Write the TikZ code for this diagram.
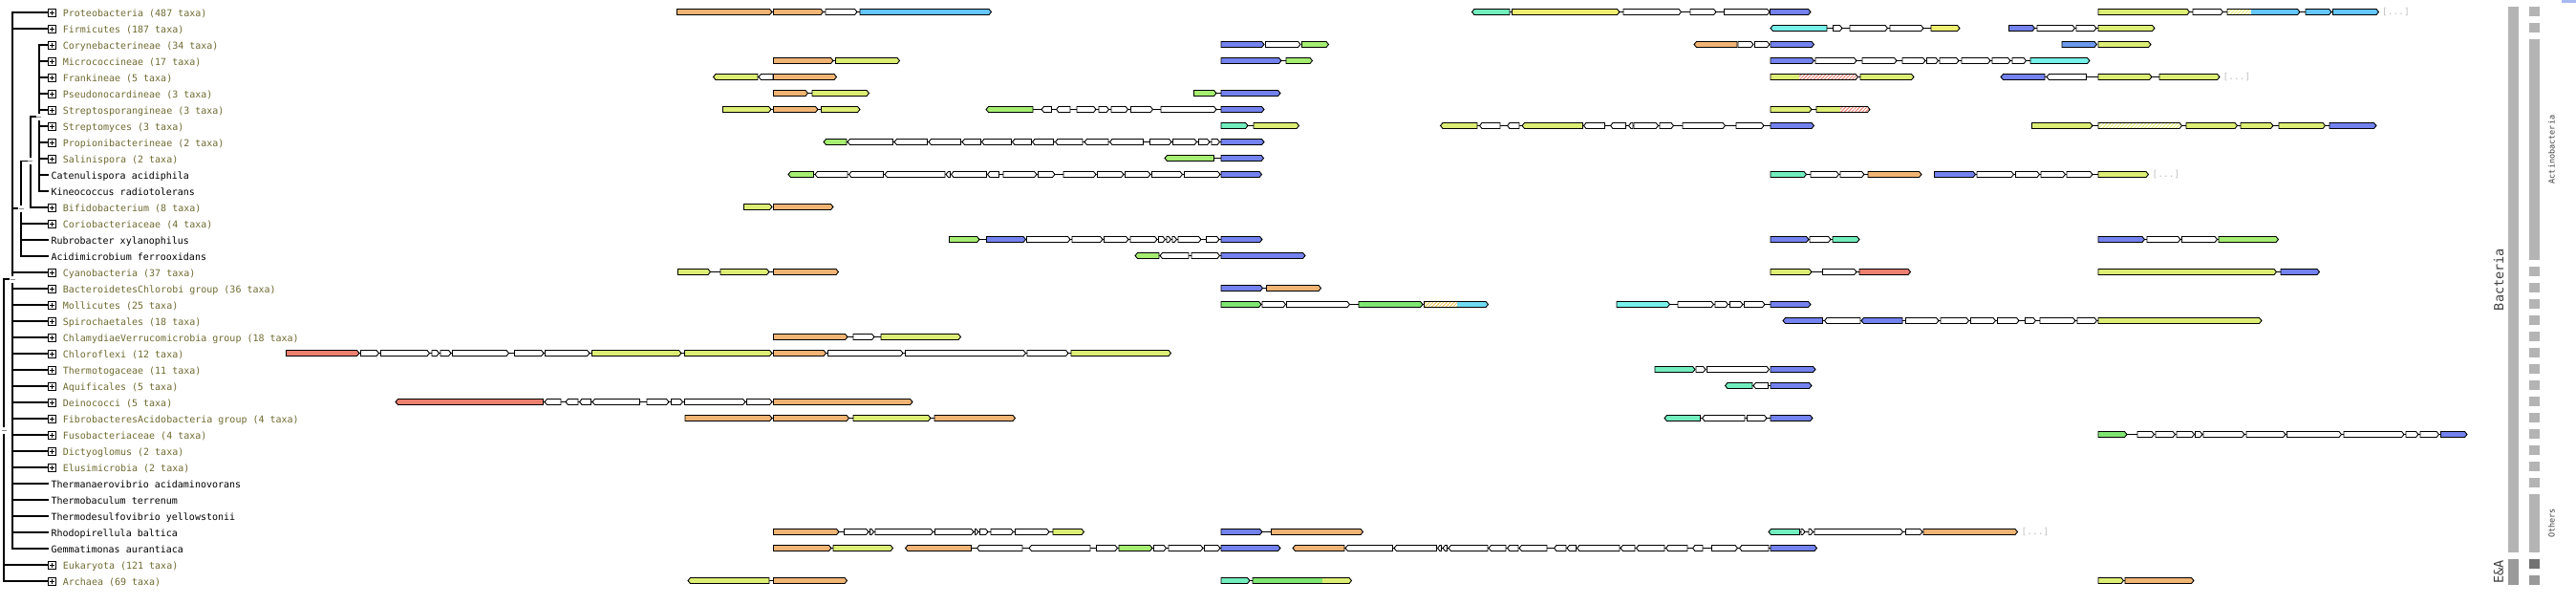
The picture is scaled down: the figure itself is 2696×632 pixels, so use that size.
\documentclass[tikz,border=0pt]{standalone}
\usepackage{fontspec}
\usetikzlibrary{patterns.meta}
\newfontfamily\monofont{DejaVu Sans Mono}

\definecolor{or}{HTML}{F0B474}
\definecolor{yg}{HTML}{DDEE75}
\definecolor{sk}{HTML}{66C6FF}
\definecolor{pe}{HTML}{7382EE}
\definecolor{lg}{HTML}{A6EE72}
\definecolor{gr}{HTML}{80E672}
\definecolor{mi}{HTML}{72EEBE}
\definecolor{cy}{HTML}{76F2EA}
\definecolor{ye}{HTML}{EEEE72}
\definecolor{rd}{HTML}{EE8070}
\definecolor{mb}{HTML}{6C98EC}
\definecolor{sc}{HTML}{70DAF2}
\definecolor{ho}{HTML}{F2C45A}
\colorlet{wh}{white}
\definecolor{taxcol}{RGB}{110,106,48}
\definecolor{barg}{HTML}{B4B4B4}
\definecolor{bareg}{HTML}{9A9A9A}
\definecolor{bardk}{HTML}{727272}
\definecolor{cornr}{HTML}{A8B8F0}

% one gene: row y, start, end, direction (1 right, -1 left), fill
\newcommand{\gn}[5]{%
  \ifnum#4>0
    \filldraw[gene,fill=#5] (#2,#1-3.5) -- (#3-2.5,#1-3.5) -- (#3,#1-0.5) -- (#3-2.5,#1+2.5) -- (#2,#1+2.5) -- cycle;
  \else
    \filldraw[gene,fill=#5] (#3,#1-3.5) -- (#2+2.5,#1-3.5) -- (#2,#1-0.5) -- (#2+2.5,#1+2.5) -- (#3,#1+2.5) -- cycle;
  \fi}
% two-part gene pointing right: row y, start, split, end, left style, right style
\newcommand{\gsplit}[6]{%
  \fill[#6] (#2,#1-3.5) -- (#4-2.5,#1-3.5) -- (#4,#1-0.5) -- (#4-2.5,#1+2.5) -- (#2,#1+2.5) -- cycle;
  \fill[#5] (#2,#1-3.5) rectangle (#3,#1+2.5);
  \draw[gene] (#2,#1-3.5) -- (#4-2.5,#1-3.5) -- (#4,#1-0.5) -- (#4-2.5,#1+2.5) -- (#2,#1+2.5) -- cycle;}
% intergenic line
\newcommand{\lk}[3]{\draw[link] (#2,#1-0.5) -- (#3,#1-0.5);}

\begin{document}
\begin{tikzpicture}[x=1pt,y=-1pt,
  gene/.style={draw=black,line width=0.9pt,line join=miter},
  link/.style={line width=0.9pt},
  tree/.style={line width=1.8pt,line cap=rect},
  plusbox/.style={draw=black,line width=0.9pt},
  taxon/.style={anchor=base west,inner sep=0pt,text=taxcol,font=\monofont\fontsize{10}{12}\selectfont},
  species/.style={taxon,text=black},
  more/.style={anchor=west,inner sep=0pt,text=black!25,font=\monofont\fontsize{9.5}{11}\selectfont},
  grouplab/.style={inner sep=0pt,text=black!75,rotate=90},
  hatch/.style={preaction={fill=white},pattern={Lines[angle=45,distance=2.6pt,line width=1pt]}},
  hatchR/.style={hatch,pattern color=rd},
  hatchY/.style={hatch,pattern color=yg!70!ye},
  hatchO/.style={hatch,pattern color=ho}]
\useasboundingbox (0,0) rectangle (2696,632);

% taxonomy tree
\draw[tree] (4.3,292) -- (4.3,608);
\draw[tree] (4.3,292) -- (13.3,292);
\draw[tree] (13.3,13) -- (13.3,574);
\draw[tree] (13.3,218) -- (22.3,218);
\draw[tree] (22.3,168.5) -- (22.3,268);
\draw[tree] (22.3,168.5) -- (31.7,168.5);
\draw[tree] (31.7,122) -- (31.7,217);
\draw[tree] (31.7,122) -- (40.7,122);
\draw[tree] (40.7,47) -- (40.7,200);
\foreach \i in {0,1,16,17,18,19,20,21,22,23,24,25,26,27,28,29,30,31,32,33}
  \draw[tree] (13.3,13+17*\i) -- (50,13+17*\i);
\foreach \i in {13,14,15} \draw[tree] (22.3,13+17*\i) -- (50,13+17*\i);
\draw[tree] (31.7,217) -- (50,217);
\foreach \i in {2,...,11} \draw[tree] (40.7,13+17*\i) -- (50,13+17*\i);
\foreach \i in {34,35} \draw[tree] (4.3,13+17*\i) -- (50,13+17*\i);
\foreach \mx/\my in {4.3/450,13.3/292,22.3/218,31.7/168.5,40.7/122} {
  \fill[white] (\mx-3,\my-3.5) rectangle (\mx+3,\my+3.5);
  \draw[black!45,line width=1pt] (\mx-2.5,\my) -- (\mx+2.5,\my);
}
\foreach \i in {0,1,2,3,4,5,6,7,8,9,12,13,16,17,18,19,20,21,22,23,24,25,26,27,28,34,35} {
  \fill[white] (50.3,13+17*\i-3.7) rectangle (58.3,13+17*\i+4.3);
  \draw[plusbox] (50.3,13+17*\i-3.7) rectangle (58.3,13+17*\i+4.3);
  \draw[line width=1pt] (51.8,13+17*\i+0.3) -- (56.8,13+17*\i+0.3);
  \draw[line width=1pt] (54.3,13+17*\i-2.2) -- (54.3,13+17*\i+2.8);
}

% taxon labels
\foreach \i/\lab in {0/Proteobacteria (487 taxa),1/Firmicutes (187 taxa),
  2/Corynebacterineae (34 taxa),3/Micrococcineae (17 taxa),4/Frankineae (5 taxa),
  5/Pseudonocardineae (3 taxa),6/Streptosporangineae (3 taxa),7/Streptomyces (3 taxa),
  8/Propionibacterineae (2 taxa),9/Salinispora (2 taxa),12/Bifidobacterium (8 taxa),
  13/Coriobacteriaceae (4 taxa),16/Cyanobacteria (37 taxa),
  17/BacteroidetesChlorobi group (36 taxa),18/Mollicutes (25 taxa),
  19/Spirochaetales (18 taxa),20/ChlamydiaeVerrucomicrobia group (18 taxa),
  21/Chloroflexi (12 taxa),22/Thermotogaceae (11 taxa),23/Aquificales (5 taxa),
  24/Deinococci (5 taxa),25/FibrobacteresAcidobacteria group (4 taxa),
  26/Fusobacteriaceae (4 taxa),27/Dictyoglomus (2 taxa),28/Elusimicrobia (2 taxa),
  34/Eukaryota (121 taxa),35/Archaea (69 taxa)}
  \node[taxon] (tx\i) at (65.7,13+17*\i+4.3) {\lab};
\foreach \i/\lab in {10/Catenulispora acidiphila,11/Kineococcus radiotolerans,
  14/Rubrobacter xylanophilus,15/Acidimicrobium ferrooxidans,
  29/Thermanaerovibrio acidaminovorans,30/Thermobaculum terrenum,
  31/Thermodesulfovibrio yellowstonii,32/Rhodopirellula baltica,
  33/Gemmatimonas aurantiaca}
  \node[species] (tx\i) at (53.3,13+17*\i+4.3) {\lab};

% gene rows
% Proteobacteria
\foreach \a/\b in {708.5/1037.5,1540.5/1895,2196/2489.5} {\lk{13}{\a}{\b}}
\foreach \a/\b/\d/\c in {708.5/808/1/or,809.5/861.5/1/or,864/897/1/wh,900/1037.5/1/sk,
  1540.5/1580/-1/mi,1582.5/1695/1/ye,1699/1759.5/1/wh,1769/1796/1/wh,1804.5/1852/1/wh,
  1852.5/1895/1/pe,2196/2291.5/1/yg,2295/2326.5/1/wh,2413/2440/1/sk,2441.5/2489.5/1/sk}
  {\gn{13}{\a}{\b}{\d}{\c}}
\gsplit{13}{2331}{2355.5}{2407}{hatchY}{fill=sk}
\node[more] (more0) at (2493,12.5) {[...]};
% Firmicutes
\foreach \a/\b in {1853/2051,2102.5/2255} {\lk{30}{\a}{\b}}
\foreach \a/\b/\d/\c in {1853/1912/-1/cy,1918.5/1928/1/wh,1936/1975.5/1/wh,1978/2013/1/wh,
  2021/2051/1/ye,2102.5/2129.5/1/pe,2132/2171.5/1/wh,2173/2194/1/wh,2196/2255/1/yg}
  {\gn{30}{\a}{\b}{\d}{\c}}
% Corynebacterineae
\foreach \a/\b/\d/\c in {1278/1323/1/pe,1324.5/1361/1/wh,1362.5/1390.5/1/lg,
  1773/1818/-1/or,1819/1835/1/wh,1836.5/1852/1/wh,1853/1898.5/1/pe,
  2158/2194.5/1/mb,2196/2251/1/yg}
  {\gn{47}{\a}{\b}{\d}{\c}}
% Micrococcineae
\foreach \a/\b in {809.5/941.5,1278/1373.5,1853/2187} {\lk{64}{\a}{\b}}
\foreach \a/\b/\d/\c in {809.5/872/1/or,874.5/941.5/1/yg,1278/1341/1/pe,1346/1373.5/1/lg,
  1853/1898.5/1/pe,1900/1943/1/wh,1949/1985/1/wh,1991/2015/1/wh,2016.5/2028.5/1/wh,
  2030/2050/1/wh,2053/2083/1/wh,2085/2104/1/wh,2106/2120.5/1/wh,2125/2187/1/cy}
  {\gn{64}{\a}{\b}{\d}{\c}}
% Frankineae
\foreach \a/\b in {746.5/875.5,1853/2003,2094/2323} {\lk{81}{\a}{\b}}
\foreach \a/\b/\d/\c in {746.5/793/-1/yg,794/809/-1/wh,809.5/875.5/1/or,1947/2003/1/yg,
  2094/2140/-1/pe,2142/2183.5/-1/wh,2196/2252/1/yg,2260/2323/1/yg}
  {\gn{81}{\a}{\b}{\d}{\c}}
\gsplit{81}{1853}{1882.5}{1944.5}{fill=yg}{hatchR}
\node[more] (more4) at (2326.5,80.5) {[...]};
% Pseudonocardineae
\foreach \a/\b in {809.5/909.5,1249.5/1340} {\lk{98}{\a}{\b}}
\foreach \a/\b/\d/\c in {809.5/845.5/1/or,850/909.5/1/yg,1249.5/1273/1/lg,1278/1340/1/pe}
  {\gn{98}{\a}{\b}{\d}{\c}}
% Streptosporangineae
\foreach \a/\b in {756.5/900,1032/1323,1853/1957} {\lk{115}{\a}{\b}}
\foreach \a/\b/\d/\c in {756.5/807/1/yg,809.5/856/1/or,859.5/900/1/yg,1032/1081/-1/lg,
  1090/1100.5/-1/wh,1105.5/1120/-1/wh,1127/1147/1/wh,1150/1160.5/1/wh,1163/1180.5/1/wh,
  1183.5/1206.5/1/wh,1215/1273/1/wh,1278/1323/1/pe,1853/1896/1/yg}
  {\gn{115}{\a}{\b}{\d}{\c}}
\gsplit{115}{1901}{1925.5}{1957}{fill=yg}{hatchR}
% Streptomyces
\foreach \a/\b in {1278/1359.5,1507.5/1898.5,2126.5/2487} {\lk{132}{\a}{\b}}
\foreach \a/\b/\d/\c in {1278/1306/1/mi,1312/1359.5/1/yg,1507.5/1546/-1/yg,1548.5/1570/-1/wh,
  1577.5/1590/-1/wh,1593/1656.5/-1/yg,1657.5/1679.5/-1/wh,1685.5/1701.5/-1/wh,
  1704.5/1709/-1/wh,1710/1735.5/1/wh,1737/1751.5/1/wh,1761/1805.5/1/wh,1817/1846/1/wh,
  1853/1898.5/1/pe,2126.5/2190/1/yg,2288/2341.5/1/yg,2345/2379/1/yg,2385/2433.5/1/yg,
  2438/2487/1/pe}
  {\gn{132}{\a}{\b}{\d}{\c}}
\gsplit{132}{2196}{2196}{2283.5}{fill=yg}{hatchY}
% Propionibacterineae
\lk{149}{862}{1323}
\foreach \a/\b/\d/\c in {862/886/-1/lg,887/934.5/-1/wh,936/970.5/-1/wh,972/1005.5/-1/wh,
  1007/1026.5/-1/wh,1027.5/1058.5/-1/wh,1059.5/1079.5/-1/wh,1080.5/1102.5/-1/wh,
  1104.5/1133/-1/wh,1135/1160/-1/wh,1161.5/1196.5/-1/wh,1203.5/1226/1/wh,
  1227.5/1252.5/1/wh,1254.5/1266/1/wh,1268/1276.5/1/wh,1278/1323/1/pe}
  {\gn{149}{\a}{\b}{\d}{\c}}
% Salinispora
\lk{166}{1219}{1322.5}
\foreach \a/\b/\d/\c in {1219/1270.5/-1/lg,1278/1322.5/1/pe} {\gn{166}{\a}{\b}{\d}{\c}}
% Catenulispora acidiphila
\foreach \a/\b in {825/1320.5,1853/2011,2024.5/2248.5} {\lk{183}{\a}{\b}}
\foreach \a/\b/\d/\c in {825/851.5/-1/lg,853/887/-1/wh,888.5/924.5/-1/wh,926/989/-1/wh,
  990/994.5/-1/wh,995.5/1032.5/-1/wh,1033.5/1045.5/-1/wh,1050/1085/1/wh,1086.5/1104/1/wh,
  1113/1147/1/wh,1148.5/1176/1/wh,1177.5/1204/1/wh,1205.5/1237.5/1/wh,1239.5/1277/1/wh,
  1278/1320.5/1/pe,1853/1890.5/1/mi,1895/1924.5/1/wh,1926/1951/1/wh,1955/2011/1/or,
  2024.5/2067.5/1/pe,2069/2107.5/1/wh,2109.5/2134.5/1/wh,2136/2161.5/1/wh,2163/2190/1/wh,
  2196/2248.5/1/yg}
  {\gn{183}{\a}{\b}{\d}{\c}}
\node[more] (more10) at (2252.5,182.5) {[...]};
% Bifidobacterium
\foreach \a/\b/\d/\c in {778.5/808/1/yg,809.5/872/1/or} {\gn{217}{\a}{\b}{\d}{\c}}
% Rubrobacter xylanophilus
\foreach \a/\b in {993.5/1321,1853/1946,2196/2384.5} {\lk{251}{\a}{\b}}
\foreach \a/\b/\d/\c in {993.5/1025/1/lg,1032.5/1073.5/1/pe,1074.5/1120/1/wh,1122/1154/1/wh,
  1155.5/1181/1/wh,1183/1211/1/wh,1212.5/1219.5/1/wh,1221/1225.5/1/wh,1227/1231.5/1/wh,
  1233/1257/1/wh,1262.5/1276/1/wh,1278/1321/1/pe,1853/1893/1/pe,1894/1916/1/wh,
  1918/1946/1/mi,2196/2244.5/1/pe,2247/2282/1/wh,2283.5/2320.5/1/wh,2322/2384.5/1/lg}
  {\gn{251}{\a}{\b}{\d}{\c}}
% Acidimicrobium ferrooxidans
\lk{268}{1188}{1366}
\foreach \a/\b/\d/\c in {1188/1213/-1/lg,1214/1244/-1/wh,1247/1276.5/1/wh,1278/1366/1/pe}
  {\gn{268}{\a}{\b}{\d}{\c}}
% Cyanobacteria
\foreach \a/\b in {709.5/877.5,1853/1999.5,2196/2427.5} {\lk{285}{\a}{\b}}
\foreach \a/\b/\d/\c in {709.5/743.5/1/yg,754/805/1/yg,809.5/877.5/1/or,1853/1896/1/yg,
  1907.5/1943/1/wh,1946/1999.5/1/rd,2196/2382.5/1/yg,2387/2427.5/1/pe}
  {\gn{285}{\a}{\b}{\d}{\c}}
% BacteroidetesChlorobi group
\lk{302}{1278}{1382.5}
\foreach \a/\b/\d/\c in {1278/1321.5/1/pe,1325.5/1382.5/1/or} {\gn{302}{\a}{\b}{\d}{\c}}
% Mollicutes
\foreach \a/\b in {1278/1557.5,1692/1895} {\lk{319}{\a}{\b}}
\foreach \a/\b/\d/\c in {1278/1320/1/gr,1321/1345.5/1/wh,1346.5/1412.5/1/wh,1422/1489/1/gr,
  1692/1747.5/1/cy,1756/1793.5/1/wh,1795/1808.5/1/wh,1810.5/1824/1/wh,1825.5/1847/1/wh,
  1853/1895/1/pe}
  {\gn{319}{\a}{\b}{\d}{\c}}
\gsplit{319}{1490.5}{1525}{1557.5}{hatchO}{fill=sc}
% Spirochaetales
\lk{336}{1866}{2367}
\foreach \a/\b/\d/\c in {1866/1907.5/-1/pe,1909.5/1947/-1/wh,1948/1991/-1/pe,1994.5/2029/1/wh,
  2031/2060.5/1/wh,2062.5/2088.5/1/wh,2090.5/2113/1/wh,2119.5/2130.5/1/wh,2135/2172/1/wh,
  2174/2194.5/1/wh,2196/2367/1/yg}
  {\gn{336}{\a}{\b}{\d}{\c}}
% ChlamydiaeVerrucomicrobia group
\lk{353}{809.5}{1005.5}
\foreach \a/\b/\d/\c in {809.5/887/1/or,893/915/1/wh,922/1005.5/1/yg} {\gn{353}{\a}{\b}{\d}{\c}}
% Chloroflexi
\lk{370}{299.5}{1225.5}
\foreach \a/\b/\d/\c in {299.5/376/1/rd,377.5/396.5/1/wh,398.5/449.5/1/wh,452/459.5/1/wh,
  461/472/1/wh,473.5/532.5/1/wh,538.5/569/1/wh,570.5/617/1/wh,619.5/713/1/yg,716.5/808/1/yg,
  809.5/864.5/1/or,866.5/945/1/wh,947.5/1073.5/1/wh,1075/1118/1/wh,1121/1225.5/1/yg}
  {\gn{370}{\a}{\b}{\d}{\c}}
% Thermotogaceae
\foreach \a/\b/\d/\c in {1732/1774/1/mi,1775/1785/1/wh,1786.5/1851.5/1/wh,1853/1900/1/pe}
  {\gn{387}{\a}{\b}{\d}{\c}}
% Aquificales
\lk{404}{1805.5}{1896}
\foreach \a/\b/\d/\c in {1805.5/1834/-1/mi,1835/1850.5/-1/wh,1853/1896/1/pe} {\gn{404}{\a}{\b}{\d}{\c}}
% Deinococci
\lk{421}{414}{955}
\foreach \a/\b/\d/\c in {414/568.5/-1/rd,570/587/-1/wh,592/605/-1/wh,606.5/618.5/-1/wh,
  620/669.5/-1/wh,677/700/1/wh,702.5/714.5/1/wh,716.5/780/1/wh,781.5/808/1/wh,809.5/955/1/or}
  {\gn{421}{\a}{\b}{\d}{\c}}
% FibrobacteresAcidobacteria group
\foreach \a/\b in {717/1062.5,1742/1897} {\lk{438}{\a}{\b}}
\foreach \a/\b/\d/\c in {717/808/1/or,809.5/888.5/1/or,893/974/1/yg,978/1062.5/1/or,
  1742/1779.5/-1/mi,1781.5/1826/-1/wh,1828.5/1849/1/wh,1853/1897/1/pe}
  {\gn{438}{\a}{\b}{\d}{\c}}
% Fusobacteriaceae
\lk{455}{2196}{2582}
\foreach \a/\b/\d/\c in {2196/2226/1/gr,2237/2254.5/1/wh,2256/2276.5/1/wh,2278/2296.5/1/wh,
  2297.5/2305/1/wh,2306/2349/1/wh,2351/2392/1/wh,2393.5/2450.5/1/wh,2453/2516/1/wh,
  2518/2531/1/wh,2533/2552.5/1/wh,2554.5/2582/1/pe}
  {\gn{455}{\a}{\b}{\d}{\c}}
% Rhodopirellula baltica
\foreach \a/\b in {809.5/1134.5,1278/1426.5,1851/2111.5} {\lk{557}{\a}{\b}}
\foreach \a/\b/\d/\c in {809.5/878/1/or,883.5/909/1/wh,910.5/914.5/1/wh,916/976.5/1/wh,
  978.5/1019/1/wh,1020.5/1024/1/wh,1025.5/1034/1/wh,1037/1060.5/1/wh,1062.5/1098/1/wh,
  1102/1134.5/1/yg,1278/1321/1/pe,1330.5/1426.5/1/or,1851/1883.5/-1/mi,1885/1889/1/wh,
  1893/1897.5/1/wh,1899/1991.5/1/wh,1994.5/2012/1/wh,2013/2111.5/1/or}
  {\gn{557}{\a}{\b}{\d}{\c}}
\node[more] (more32) at (2115.5,556.5) {[...]};
% Gemmatimonas aurantiaca
\foreach \a/\b in {809.5/934.5,947.5/1340,1353/1901.5} {\lk{574}{\a}{\b}}
\foreach \a/\b/\d/\c in {809.5/870/1/or,872/934.5/1/yg,947.5/1016.5/-1/or,1022.5/1070/-1/wh,
  1077/1141/-1/wh,1147.5/1169.5/1/wh,1171/1206/1/lg,1207.5/1220.5/1/wh,1223/1259/1/wh,
  1260.5/1277/1/wh,1278/1340/1/pe,1353/1407/-1/or,1408/1457.5/-1/wh,1459/1503.5/-1/wh,
  1504.5/1508.5/-1/wh,1510/1514.5/-1/wh,1516/1557/-1/wh,1558/1576/-1/wh,1577.5/1589/-1/wh,
  1590/1619/-1/wh,1626.5/1639/-1/wh,1640/1649.5/-1/wh,1650.5/1695/-1/wh,1696/1711/-1/wh,
  1712.5/1742/-1/wh,1743.5/1766/-1/wh,1771.5/1782/-1/wh,1791.5/1818.5/1/wh,
  1820.5/1851/-1/wh,1853/1901.5/1/pe}
  {\gn{574}{\a}{\b}{\d}{\c}}
% Archaea
\foreach \a/\b in {720/886.5,1278/1414.5,2196/2296} {\lk{608}{\a}{\b}}
\foreach \a/\b/\d/\c in {720/805/-1/yg,809.5/886.5/1/or,1278/1308/1/mi,2196/2222.5/1/yg,
  2224/2296/1/or}
  {\gn{608}{\a}{\b}{\d}{\c}}
\gsplit{608}{1311}{1383.5}{1414.5}{fill=gr}{fill=yg}

% group bars
\fill[barg] (2625,7) rectangle (2636,578);
\fill[bareg] (2625,585) rectangle (2636,612);
\foreach \i in {0,1,16,17,18,19,20,21,22,23,24,25,26,27,28,29}
  \fill[barg] (2647,13+17*\i-6) rectangle (2658,13+17*\i+4);
\fill[barg] (2647,41) rectangle (2658,272);
\fill[barg] (2647,517) rectangle (2658,578);
\fill[bardk] (2647,585) rectangle (2658,595);
\fill[bareg] (2647,602) rectangle (2658,612);
\node[grouplab,font=\monofont\fontsize{13.5}{15}\selectfont] (bact) at (2615,292.5) {Bacteria};
\node[grouplab,font=\monofont\fontsize{13.5}{15}\selectfont] (euar) at (2615,598.5) {E\&A};
\node[grouplab,font=\monofont\fontsize{8.5}{10}\selectfont] (actino) at (2670.5,156.5) {Actinobacteria};
\node[grouplab,font=\monofont\fontsize{8.5}{10}\selectfont] (others) at (2670.5,547.5) {Others};
\fill[cornr] (2681,0) rectangle (2696,3);
\end{tikzpicture}
\end{document}
